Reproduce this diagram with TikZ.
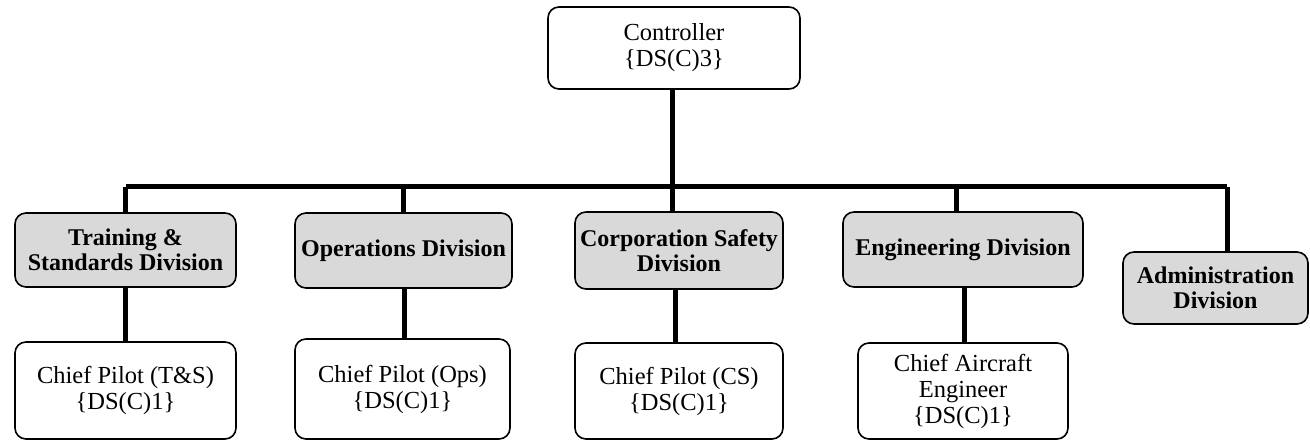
\documentclass[tikz,border=0pt]{standalone}
\usepackage{fontspec}
\setmainfont{Liberation Serif}
\begin{document}
\begin{tikzpicture}[x=1pt,y=-1pt,
  box/.style={draw=black,line width=1.6pt,rounded corners=11pt,align=center,
    inner sep=2pt,font=\fontsize{24.5}{26}\selectfont},
  divbox/.style={box,fill=gray!30,font=\fontsize{24}{25}\selectfont\bfseries},
  link/.style={line width=5pt}]
\useasboundingbox (0,0) rectangle (1310,441);

% top level
\node[box,minimum width=252pt,minimum height=82pt] (ctrl) at (674,48) {Controller\\\{DS(C)3\}};

% divisions
\node[divbox,minimum width=221pt,minimum height=74pt] (ts)  at (125.5,250) {Training \&\\Standards Division};
\node[divbox,minimum width=217pt,minimum height=75pt] (ops) at (403.5,250.5) {Operations Division};
\node[divbox,minimum width=208pt,minimum height=77pt] (cs)  at (679,250.5) {Corporation Safety\\Division};
\node[divbox,minimum width=240pt,minimum height=75pt] (eng) at (963,249.5) {Engineering Division};
\node[divbox,minimum width=185pt,minimum height=72pt] (adm) at (1215.5,288) {Administration\\Division};

% chief posts
\node[box,minimum width=221pt,minimum height=97pt] (cpts)  at (125.5,390.5) {Chief Pilot (T\&S)\\\{DS(C)1\}};
\node[box,minimum width=215pt,minimum height=100pt] (cpops) at (402.5,389) {Chief Pilot (Ops)\\\{DS(C)1\}};
\node[box,minimum width=208pt,minimum height=96pt] (cpcs)  at (679,391) {Chief Pilot (CS)\\\{DS(C)1\}};
\node[box,minimum width=210pt,minimum height=96pt] (cae)   at (963,391) {Chief Aircraft\\Engineer\\\{DS(C)1\}};

% bus
\coordinate (busL) at (126,187);
\coordinate (busR) at (1227,187);
\draw[link] (busL) -- (busR);
\draw[link] ([xshift=-2pt]ctrl.south) -- ([xshift=-2pt]ctrl.south |- busL);

% drops to divisions
\draw[link] (ts.north) -- (ts.north |- busL);
\draw[link] (ops.north) -- (ops.north |- busL);
\draw[link] ([xshift=-7pt]cs.north) -- ([xshift=-7pt]cs.north |- busL);
\draw[link] ([xshift=-7pt]eng.north) -- ([xshift=-7pt]eng.north |- busL);
\draw[link] ([xshift=11.5pt]adm.north) -- ([xshift=11.5pt]adm.north |- busL);

% divisions to chief posts
\draw[link] (ts.south) -- (cpts.north);
\draw[link] ([xshift=0.5pt]ops.south) -- ([xshift=1.5pt]cpops.north);
\draw[link] ([xshift=-4pt]cs.south) -- ([xshift=-4pt]cpcs.north);
\draw[link] ([xshift=1pt]eng.south) -- ([xshift=1pt]cae.north);
\end{tikzpicture}
\end{document}
